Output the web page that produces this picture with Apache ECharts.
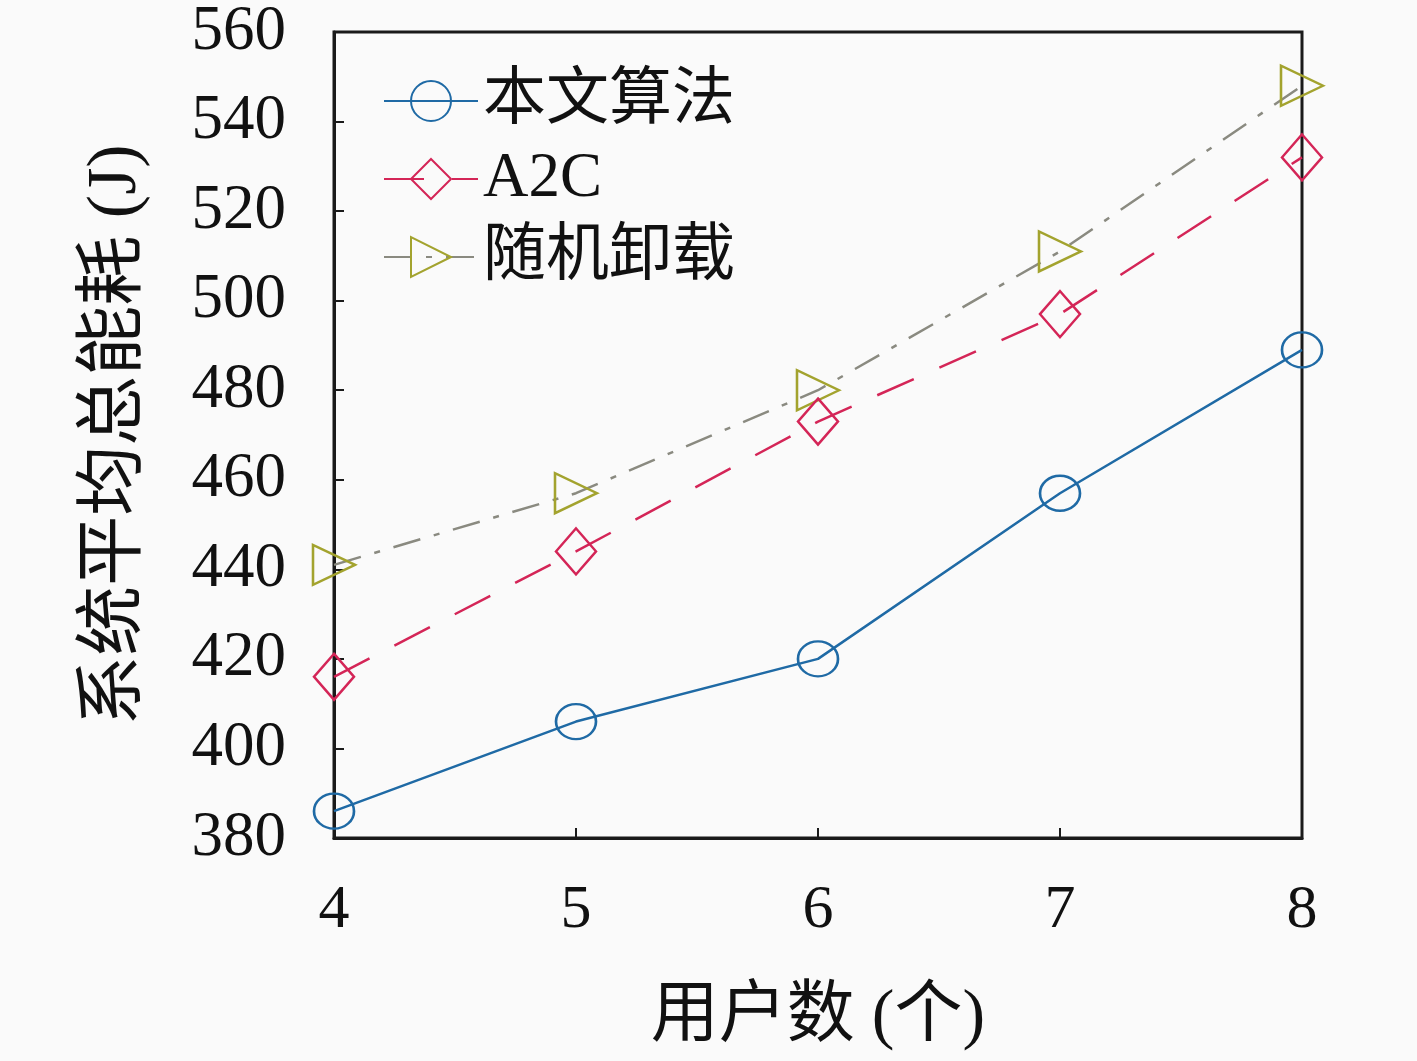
<!DOCTYPE html>
<html>
<head>
<meta charset="utf-8">
<script src="https://cdn.jsdelivr.net/npm/echarts@6/dist/echarts.min.js"></script>
<style>html,body{margin:0;padding:0;background:#fafafa;}#c{width:1417px;height:1061px;}</style>
</head>
<body>
<div id="c"></div>
<script>
const users = [4, 5, 6, 7, 8];
const oursValues = [386, 406, 420, 457, 489];
const a2cValues = [416, 444, 473, 497, 532];
const randomValues = [441, 457, 480, 511, 548];
const seriesNames = ['本文算法', 'A2C', '随机卸载'];

const serif = '"Liberation Serif", "Noto Sans CJK SC", serif';
const cjk = '"Liberation Serif", "Noto Sans CJK SC", sans-serif';

const chart = echarts.init(document.getElementById('c'));
chart.setOption({
  backgroundColor: '#fafafa',
  animation: false,
  grid: { left: 334, top: 32, right: 115, bottom: 223, show: true, borderColor: '#1a1a1a', borderWidth: 3, backgroundColor: 'transparent' },
  legend: {
    orient: 'vertical', left: 378, top: 60,
    itemWidth: 94, itemHeight: 50, itemGap: 6,
    data: seriesNames,
    textStyle: { fontFamily: cjk, fontSize: 63, color: '#111', lineHeight: 72 }
  },
  xAxis: {
    type: 'value', min: 4, max: 8, interval: 1,
    name: '用户数 (个)', nameLocation: 'middle', nameGap: 146,
    nameTextStyle: { fontFamily: cjk, fontSize: 68, color: '#111' },
    axisLine: { lineStyle: { color: '#1a1a1a', width: 3 } },
    axisTick: { inside: true, length: 10, lineStyle: { color: '#1a1a1a', width: 2 } },
    axisLabel: { fontFamily: serif, fontSize: 62, color: '#111', margin: 42 },
    splitLine: { show: false }
  },
  yAxis: {
    type: 'value', min: 380, max: 560, interval: 20,
    name: '系统平均总能耗 (J)', nameLocation: 'middle', nameGap: 182, nameRotate: 90,
    nameTextStyle: { fontFamily: cjk, fontSize: 70, color: '#111' },
    axisLine: { lineStyle: { color: '#1a1a1a', width: 3 } },
    axisTick: { inside: true, length: 10, lineStyle: { color: '#1a1a1a', width: 2 } },
    axisLabel: { fontFamily: serif, fontSize: 63, color: '#111', margin: 48 },
    splitLine: { show: false }
  },
  series: [
    {
      name: seriesNames[0], type: 'line',
      data: users.map((u, i) => [u, oursValues[i]]),
      symbol: 'circle', symbolSize: [40, 35],
      lineStyle: { color: '#1f6aa5', width: 2.5 },
      itemStyle: { color: 'rgba(0,0,0,0)', borderColor: '#1f6aa5', borderWidth: 2.5 },
      z: 3
    },
    {
      name: seriesNames[1], type: 'line',
      data: users.map((u, i) => [u, a2cValues[i]]),
      symbol: 'diamond', symbolSize: [40, 46],
      lineStyle: { color: '#d42557', width: 2.5, type: [40, 28] },
      itemStyle: { color: 'rgba(0,0,0,0)', borderColor: '#d42557', borderWidth: 2.5 },
      z: 2
    },
    {
      name: seriesNames[2], type: 'line',
      data: users.map((u, i) => [u, randomValues[i]]),
      symbol: 'triangle', symbolSize: [40, 42], symbolRotate: -90,
      lineStyle: { color: '#8a8a80', width: 2.5, type: [28, 14, 6, 14] },
      itemStyle: { color: 'rgba(0,0,0,0)', borderColor: '#a3a32e', borderWidth: 2.5 },
      z: 1
    }
  ]
});
</script>
</body>
</html>
